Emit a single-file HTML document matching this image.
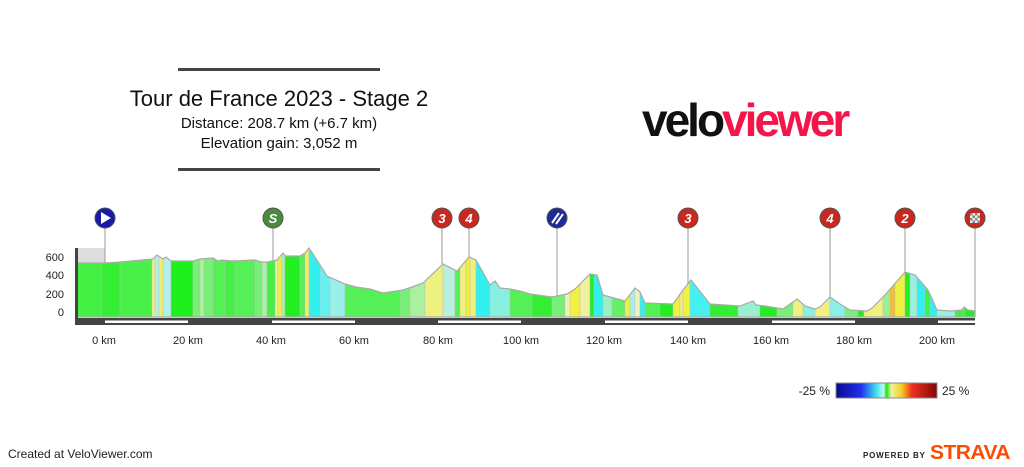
<!DOCTYPE html>
<html><head><meta charset="utf-8"><style>
body{margin:0;width:1024px;height:467px;background:#fff;font-family:"Liberation Sans",sans-serif;overflow:hidden;position:relative}
</style></head><body>
<svg width="1024" height="467" style="position:absolute;left:0;top:0" font-family="Liberation Sans, sans-serif">
<defs>
<clipPath id="pc"><polygon id="pp" points="77,263 105,263 120,262 153,259 157,255 163,259 166,257 171,261 193,261 200,259 213,258 218,261 222,260 232,261 255,260 261,262 268,262 272,261 277,260 283,253 286,256 300,256 305,253 309,248 313,254 327,276 345,284 356,287 370,289 383,293 403,290 412,287 423,283 443,264 457,271 469,257 476,260 490,285 495,281 500,288 510,289 520,291 530,294 552,297 567,294 575,289 590,274 597,275 603,295 625,301 635,288 640,292 645,303 673,304 683,290 691,280 710,304 740,306 753,301 756,305 765,306 783,309 797,299 805,306 815,309 820,307 830,297 840,304 850,310 867,311 872,308 885,295 905,272 915,275 928,290 937,310 950,311 962,310 964,307 968,310 975,311 975,317 77,317"/></clipPath>
<linearGradient id="lg" x1="0" x2="1"><stop offset="0" stop-color="#0a0a8a"/><stop offset=".25" stop-color="#2030f0"/><stop offset=".4" stop-color="#40e0f0"/><stop offset=".47" stop-color="#c0f8f0"/><stop offset=".5" stop-color="#20e020"/><stop offset=".55" stop-color="#f0f0a0"/><stop offset=".65" stop-color="#f0d020"/><stop offset=".75" stop-color="#f03020"/><stop offset="1" stop-color="#800808"/></linearGradient>
</defs>
<line x1="178" y1="69.5" x2="380" y2="69.5" stroke="#444" stroke-width="3"/>
<line x1="178" y1="169.5" x2="380" y2="169.5" stroke="#444" stroke-width="3"/>
<text x="279" y="106" font-size="22" text-anchor="middle" fill="#111">Tour de France 2023 - Stage 2</text>
<text x="279" y="128" font-size="15" text-anchor="middle" fill="#111">Distance: 208.7 km (+6.7 km)</text>
<text x="279" y="148" font-size="15" text-anchor="middle" fill="#111">Elevation gain: 3,052 m</text>
<text x="642" y="136" font-size="46" font-weight="bold" letter-spacing="-3" fill="#111">velo<tspan fill="#f4154a">viewer</tspan></text>
<rect x="77" y="248" width="28" height="15" fill="#ddd"/>
<g clip-path="url(#pc)" id="st"></g>
<use href="#pp" fill="none" stroke="#aaa" stroke-width="1.2"/>
<rect x="75" y="248" width="3" height="72" fill="#444"/>
<rect x="75" y="318" width="900" height="7" fill="#444"/>
<g fill="#fff"><rect x="105" y="320.5" width="83" height="2.5"/><rect x="272" y="320.5" width="83" height="2.5"/><rect x="438" y="320.5" width="83" height="2.5"/><rect x="605" y="320.5" width="83" height="2.5"/><rect x="772" y="320.5" width="83" height="2.5"/><rect x="938" y="320.5" width="37" height="2.5"/></g>
<g font-size="11" fill="#222" text-anchor="end"><text x="64" y="261">600</text><text x="64" y="279">400</text><text x="64" y="298">200</text><text x="64" y="316">0</text></g>
<g font-size="11" fill="#222" text-anchor="middle"><text x="104" y="344">0 km</text><text x="188" y="344">20 km</text><text x="271" y="344">40 km</text><text x="354" y="344">60 km</text><text x="438" y="344">80 km</text><text x="521" y="344">100 km</text><text x="604" y="344">120 km</text><text x="688" y="344">140 km</text><text x="771" y="344">160 km</text><text x="854" y="344">180 km</text><text x="937" y="344">200 km</text></g>
<g stroke="#999" stroke-width="1"><line x1="105" y1="228" x2="105" y2="263"/><line x1="273" y1="228" x2="273" y2="260"/><line x1="442" y1="228" x2="442" y2="264"/><line x1="469" y1="228" x2="469" y2="257"/><line x1="557" y1="228" x2="557" y2="296"/><line x1="688" y1="228" x2="688" y2="284"/><line x1="830" y1="228" x2="830" y2="297"/><line x1="905" y1="228" x2="905" y2="272"/><line x1="975" y1="228" x2="975" y2="311"/></g>
<g stroke="#555" stroke-width="1">
<circle cx="105" cy="218" r="10" fill="#1a1aa8"/><circle cx="273" cy="218" r="10" fill="#4a8a3a"/><circle cx="442" cy="218" r="10" fill="#c8281e"/><circle cx="469" cy="218" r="10" fill="#c8281e"/><circle cx="557" cy="218" r="10" fill="#1e2a98"/><circle cx="688" cy="218" r="10" fill="#c8281e"/><circle cx="830" cy="218" r="10" fill="#c8281e"/><circle cx="905" cy="218" r="10" fill="#c8281e"/><circle cx="975" cy="218" r="10" fill="#c8281e"/></g>
<polygon points="101,212 101,224 111,218" fill="#fff"/>
<g fill="#fff" font-size="13" font-weight="bold" font-style="italic" text-anchor="middle"><text x="273" y="223">S</text><text x="442" y="223">3</text><text x="469" y="223">4</text><text x="688" y="223">3</text><text x="830" y="223">4</text><text x="905" y="223">2</text></g>
<g stroke="#fff" stroke-width="2"><line x1="552" y1="223" x2="559" y2="213"/><line x1="556" y1="224" x2="563" y2="214"/></g>
<rect x="970" y="213" width="10" height="10" fill="#eee"/><g fill="#888"><rect x="970" y="213" width="2.5" height="2.5"/><rect x="975" y="213" width="2.5" height="2.5"/><rect x="972.5" y="215.5" width="2.5" height="2.5"/><rect x="977.5" y="215.5" width="2.5" height="2.5"/><rect x="970" y="218" width="2.5" height="2.5"/><rect x="975" y="218" width="2.5" height="2.5"/><rect x="972.5" y="220.5" width="2.5" height="2.5"/><rect x="977.5" y="220.5" width="2.5" height="2.5"/></g>
<rect x="836" y="383" width="101" height="15" fill="url(#lg)" stroke="#888"/>
<text x="830" y="395" font-size="12" text-anchor="end" fill="#222">-25 %</text>
<text x="942" y="395" font-size="12" fill="#222">25 %</text>
<text x="8" y="458" font-size="12" fill="#222">Created at VeloViewer.com</text>
<text x="863" y="458" font-size="8" font-weight="bold" letter-spacing="0.8" fill="#222">POWERED BY</text>
<text x="930" y="459" font-size="20" font-weight="bold" fill="#fc4c02" letter-spacing="-0.5" textLength="80" lengthAdjust="spacingAndGlyphs">STRAVA</text>
</svg>
<script>
var s=[[77,102,"#45f045"],[102,120,"#33ee33"],[120,152,"#4af04a"],[152,155,"#f0f080"],[155,159,"#b0f0e8"],[159,163,"#f0f070"],[163,171,"#b0f0e8"],[171,193,"#1ef01e"],[193,200,"#77f077"],[200,204,"#b0f0a0"],[204,213,"#77f077"],[213,225,"#55f055"],[225,235,"#44f044"],[235,255,"#55f055"],[255,262,"#77f077"],[262,267,"#aaf0aa"],[267,275,"#44f044"],[275,278,"#eaf090"],[278,282,"#f0f040"],[282,285,"#aaf0aa"],[285,300,"#22ee22"],[300,305,"#55f055"],[305,309,"#f0f060"],[309,320,"#33f0f0"],[320,330,"#66f0f0"],[330,345,"#99f0e8"],[345,400,"#55f055"],[400,410,"#77f077"],[410,425,"#aaf0a0"],[425,443,"#eef080"],[443,455,"#b8f0e0"],[455,460,"#55f055"],[460,466,"#f0f080"],[466,470,"#f0f040"],[470,476,"#f0f080"],[476,490,"#33f0f0"],[490,510,"#88f0e0"],[510,532,"#55f055"],[532,552,"#33ee33"],[552,565,"#77f077"],[565,570,"#f0f0c0"],[570,580,"#f0f040"],[580,590,"#f0f0a0"],[590,594,"#22ee22"],[594,603,"#33f0f0"],[603,612,"#99f0c0"],[612,625,"#66f066"],[625,630,"#f0f040"],[630,635,"#aaf0e0"],[635,640,"#f0f0c0"],[640,645,"#33f0f0"],[645,660,"#55f055"],[660,673,"#22ee22"],[673,680,"#f0f040"],[680,683,"#f0f080"],[683,690,"#f0f040"],[690,710,"#44f0f0"],[710,738,"#33ee33"],[738,760,"#99f0d0"],[760,777,"#22ee22"],[777,793,"#77f077"],[793,803,"#f0f080"],[803,815,"#88f0e0"],[815,830,"#f0f080"],[830,845,"#88f0e8"],[845,858,"#77f077"],[858,864,"#22ee22"],[864,883,"#eef080"],[883,890,"#99f099"],[890,895,"#f0c030"],[895,905,"#f0f040"],[905,910,"#22ee22"],[910,917,"#99f0e0"],[917,925,"#33f0f0"],[925,930,"#44f044"],[930,937,"#33f0f0"],[937,955,"#99f0e0"],[955,965,"#44f044"],[965,976,"#22ee22"]];
var g=document.getElementById("st"),h="";
s.forEach(function(a){h+='<rect x="'+a[0]+'" y="240" width="'+(a[1]-a[0])+'" height="78" fill="'+a[2]+'" stroke="#bbb" stroke-width="0.4"/>';});
g.innerHTML=h;
</script>
</body></html>
